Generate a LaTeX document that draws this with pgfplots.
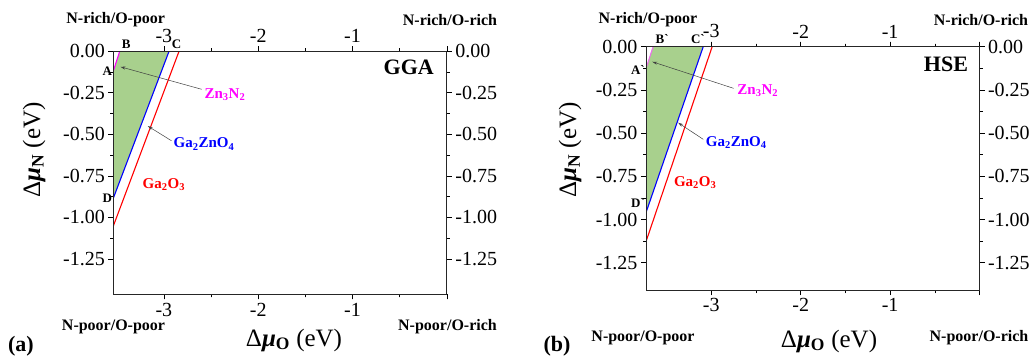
\documentclass[border=0pt]{standalone}
\usepackage{pgfplots}
\pgfplotsset{compat=1.18}
\usetikzlibrary{arrows.meta}
\usepackage{fontspec}
\setmainfont{Liberation Serif}
\definecolor{ggreen}{RGB}{168,208,141}
\definecolor{zmag}{RGB}{255,0,255}
\definecolor{zvio}{RGB}{235,110,235}
\newcommand{\fs}[1]{\fontsize{#1}{#1}\selectfont}
\newcommand{\gr}{\textasciigrave}
\pgfplotsset{
  base/.style={
    scale only axis, width=333.5pt, height=243.3pt,
    xmax=0, ymax=0,
    xtick={-3,-2,-1,0}, xticklabels={\textrm{-3},\textrm{-2},\textrm{-1},{}},
    ytick={0,-0.25,-0.5,-0.75,-1,-1.25},
    yticklabels={\textrm{0.00},\textrm{-0.25},\textrm{-0.50},\textrm{-0.75},\textrm{-1.00},\textrm{-1.25}},
    minor x tick num=1, minor y tick num=1,
    tick align=outside, major tick length=5pt, minor tick length=3pt,
    every tick/.style={black, line width=0.6pt},
    axis line style={line width=0.8pt, black!85},
    ticklabel style={font=\fs{20}},
    clip mode=individual,
  },
}
\begin{document}
\begin{tikzpicture}
\path[use as bounding box] (0pt,0pt) rectangle (1033pt,-356pt);
% ---------------- panel (a) ----------------
\begin{axis}[base, at={(113.3pt,-294.3pt)}, anchor=south west,
  xmin=-3.536, ymin=-1.462]
\addplot[fill=ggreen, draw=none] coordinates {(-3.536,-0.12) (-3.467,0) (-2.944,0) (-3.536,-0.885)} -- cycle;
\addplot[red, line width=1.1pt] coordinates {(-3.536,-1.052) (-2.838,0)};
\addplot[blue, line width=1.1pt] coordinates {(-3.536,-0.885) (-2.944,0)};
\addplot[zmag, line width=1.1pt] coordinates {(-3.536,-0.12) (-3.467,0)};
\draw[-{Stealth[length=5pt,width=3pt]}, line width=0.5pt, black!75] (axis cs:-2.60,-0.23) -- (axis cs:-3.46,-0.095);
\draw[-{Stealth[length=5pt,width=3pt]}, line width=0.5pt, black!75] (axis cs:-2.92,-0.539) -- (axis cs:-3.17,-0.451);
\node[zmag, font=\fs{15}\bfseries] at (axis cs:-2.352,-0.264) {Zn\textsubscript{3}N\textsubscript{2}};
\node[blue, font=\fs{15}\bfseries] at (axis cs:-2.575,-0.559) {Ga\textsubscript{2}ZnO\textsubscript{4}};
\node[red, font=\fs{15}\bfseries] at (axis cs:-3.0,-0.805) {Ga\textsubscript{2}O\textsubscript{3}};
\node[anchor=east, font=\fs{22}\bfseries] at (axis cs:-0.1,-0.099) {GGA};
\node[anchor=east, font=\fs{13}\bfseries, inner sep=1pt] at (axis cs:-3.536,-0.12) {A};
\node[anchor=east, font=\fs{13}\bfseries, inner sep=1pt] at (axis cs:-3.536,-0.885) {D};
\node[anchor=south, font=\fs{13}\bfseries, inner sep=1pt] at (axis cs:-3.40,0.01) {B};
\node[anchor=south, font=\fs{13}\bfseries, inner sep=1pt] at (axis cs:-2.865,0.01) {C};
\end{axis}
\begin{axis}[base, at={(113.3pt,-294.3pt)}, anchor=south west,
  xmin=-3.536, ymin=-1.462, xticklabel pos=upper, yticklabel pos=right]
\addplot[draw=none] coordinates {(-1,-1)};
\end{axis}
\node[font=\fs{16}\bfseries] at (115.7pt,-20pt) {N-rich/O-poor};
\node[font=\fs{16}\bfseries] at (450pt,-20pt) {N-rich/O-rich};
\node[font=\fs{16}\bfseries] at (113.5pt,-327pt) {N-poor/O-poor};
\node[font=\fs{16}\bfseries] at (447.5pt,-327pt) {N-poor/O-rich};
\node[font=\fs{25}] at (294pt,-340pt) {Δ\textbf{\textit{μ}}\textsubscript{\textbf{O}} (eV)};
\node[font=\fs{25}, rotate=90] at (34pt,-150pt) {Δ\textbf{\textit{μ}}\textsubscript{\textbf{N}} (eV)};
\node[font=\fs{22}\bfseries] at (21pt,-346pt) {(a)};
% ---------------- panel (b) ----------------
\begin{axis}[base, at={(646pt,-290pt)}, anchor=south west,
  xmin=-3.73, ymin=-1.408]
\addplot[fill=ggreen, draw=none] coordinates {(-3.73,-0.125) (-3.65,0) (-3.09,0) (-3.73,-0.96)} -- cycle;
\addplot[red, line width=1.1pt] coordinates {(-3.73,-1.128) (-2.99,0)};
\addplot[blue, line width=1.1pt] coordinates {(-3.73,-0.96) (-3.09,0)};
\addplot[zvio, line width=1.1pt] coordinates {(-3.73,-0.125) (-3.65,0)};
\draw[-{Stealth[length=5pt,width=3pt]}, line width=0.5pt, black!75] (axis cs:-2.75,-0.241) -- (axis cs:-3.66,-0.087);
\draw[-{Stealth[length=5pt,width=3pt]}, line width=0.5pt, black!75] (axis cs:-3.09,-0.536) -- (axis cs:-3.37,-0.44);
\node[zmag, font=\fs{15}\bfseries] at (axis cs:-2.48,-0.256) {Zn\textsubscript{3}N\textsubscript{2}};
\node[blue, font=\fs{15}\bfseries] at (axis cs:-2.72,-0.557) {Ga\textsubscript{2}ZnO\textsubscript{4}};
\node[red, font=\fs{15}\bfseries] at (axis cs:-3.18,-0.786) {Ga\textsubscript{2}O\textsubscript{3}};
\node[anchor=east, font=\fs{22}\bfseries] at (axis cs:-0.09,-0.10) {HSE};
\node[anchor=east, font=\fs{13}\bfseries, inner sep=1pt] at (axis cs:-3.73,-0.135) {A\gr};
\node[anchor=east, font=\fs{13}\bfseries, inner sep=1pt] at (axis cs:-3.73,-0.905) {D\gr};
\node[anchor=south, font=\fs{13}\bfseries, inner sep=1pt] at (axis cs:-3.55,0.01) {B\gr};
\node[anchor=south, font=\fs{13}\bfseries, inner sep=1pt] at (axis cs:-3.15,0.01) {C\gr};
\end{axis}
\begin{axis}[base, at={(646pt,-290pt)}, anchor=south west,
  xmin=-3.73, ymin=-1.408, xticklabel pos=upper, yticklabel pos=right]
\addplot[draw=none] coordinates {(-1,-1)};
\end{axis}
\node[font=\fs{16}\bfseries] at (648pt,-20pt) {N-rich/O-poor};
\node[font=\fs{16}\bfseries] at (981pt,-20pt) {N-rich/O-rich};
\node[font=\fs{16}\bfseries] at (643pt,-338pt) {N-poor/O-poor};
\node[font=\fs{16}\bfseries] at (979pt,-338pt) {N-poor/O-rich};
\node[font=\fs{25}] at (829pt,-341pt) {Δ\textbf{\textit{μ}}\textsubscript{\textbf{O}} (eV)};
\node[font=\fs{25}, rotate=90] at (570pt,-150pt) {Δ\textbf{\textit{μ}}\textsubscript{\textbf{N}} (eV)};
\node[font=\fs{22}\bfseries] at (557pt,-346pt) {(b)};
\end{tikzpicture}
\end{document}
